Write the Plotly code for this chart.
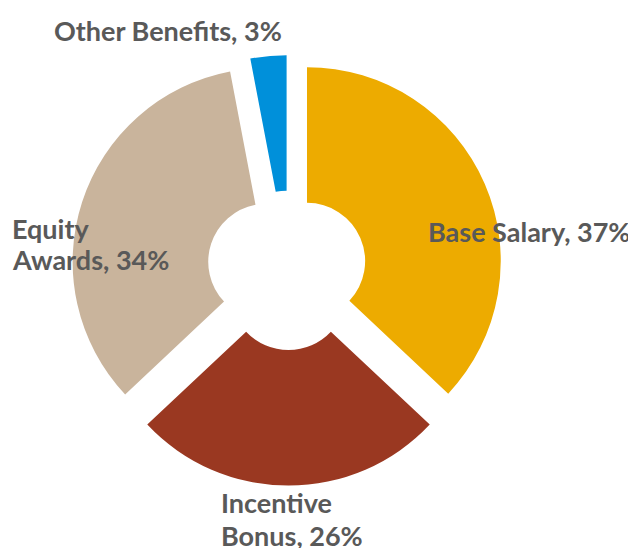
import plotly.graph_objects as go

categories = ["Base Salary", "Incentive Bonus", "Equity Awards", "Other Benefits"]
values = [37, 26, 34, 3]
# each label split into its text lines
label_lines = [["Base Salary, 37%"], ["Incentive", "Bonus, 26%"], ["Equity", "Awards, 34%"], ["Other Benefits, 3%"]]
colors = ["#EDAB00", "#9A3821", "#C9B49C", "#0090DA"]
pulls = [0.104, 0.118, 0.12, 0.104]

W, H = 636, 548
OFF = 8  # page body margin
cx, cy, half = 288.5 - OFF, 269.0 - OFF, 217.0

fig = go.Figure(go.Pie(
    labels=categories,
    values=values,
    sort=False,
    direction="clockwise",
    rotation=0,
    hole=0.30,
    pull=pulls,
    marker=dict(colors=colors, line=dict(width=0)),
    textinfo="none",
    hoverinfo="skip",
    showlegend=False,
    domain=dict(x=[(cx - half) / W, (cx + half) / W],
                y=[1 - (cy + half) / H, 1 - (cy - half) / H]),
))

# label line positions (page pixel anchors: left x, vertical middle y of each line)
label_pos = [[(427, 232)], [(220, 502.5), (220, 535.5)], [(11, 228), (11, 259.5)], [(53, 31)]]
for lines, poss in zip(label_lines, label_pos):
    for txt, (px, py) in zip(lines, poss):
        fig.add_annotation(
            x=(px - OFF) / W, y=1 - (py - OFF) / H, xref="paper", yref="paper",
            xanchor="left", yanchor="middle", align="left",
            text=txt, showarrow=False, borderpad=0,
            font=dict(family="Lato", size=27, color="#595959", weight="bold"),
        )

fig.update_layout(
    width=W, height=H,
    margin=dict(l=0, r=0, t=0, b=0),
    paper_bgcolor="white", plot_bgcolor="white",
)

fig.write_html("out.html")
